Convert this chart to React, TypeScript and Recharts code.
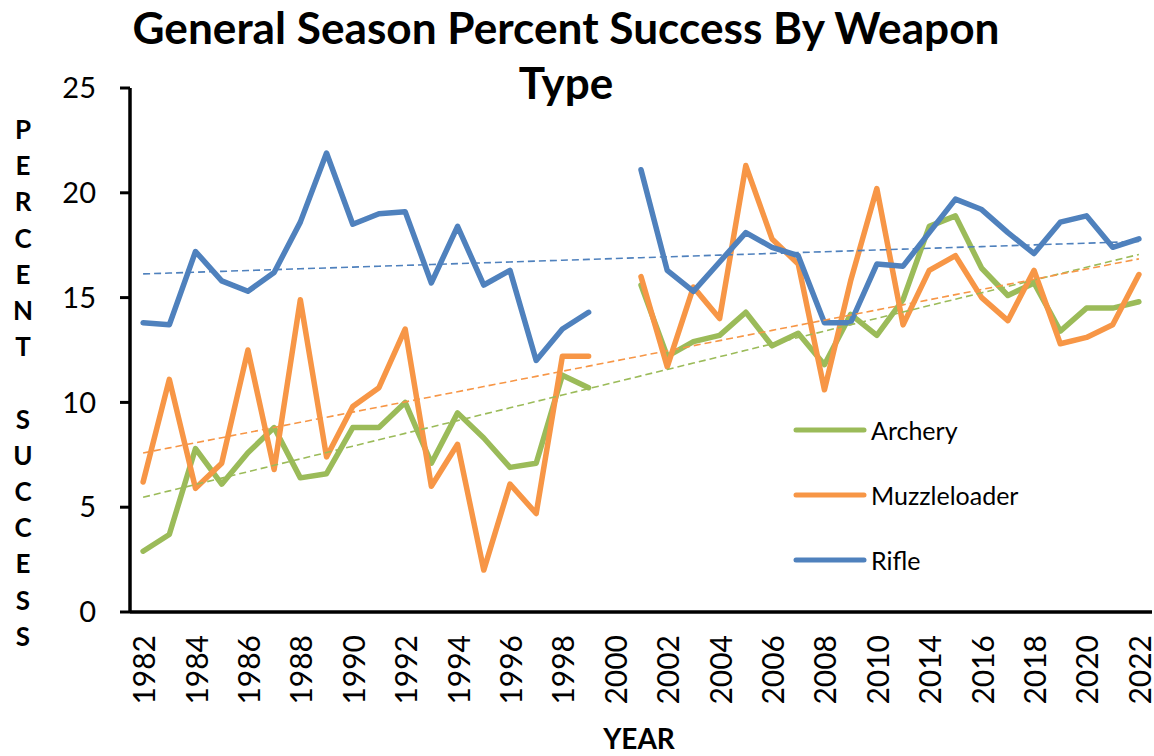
import React from 'react';
import { LineChart, Line, XAxis, YAxis, Legend } from 'recharts';

// categories (index 18 = 2000 has no data)
const years = [
  '1982', '1983', '1984', '1985', '1986', '1987', '1988', '1989', '1990', '1991',
  '1992', '1993', '1994', '1995', '1996', '1997', '1998', '1999', '2000', '2001',
  '2002', '2003', '2004', '2005', '2006', '2007', '2008', '2009', '2010', '2012',
  '2014', '2015', '2016', '2017', '2018', '2019', '2020', '2021', '2022',
];

const archery = [
  2.9, 3.7, 7.8, 6.1, 7.6, 8.8, 6.4, 6.6, 8.8, 8.8,
  10.0, 7.1, 9.5, 8.3, 6.9, 7.1, 11.3, 10.7, null, 15.6,
  12.2, 12.9, 13.2, 14.3, 12.7, 13.3, 11.8, 14.2, 13.2, 14.9,
  18.4, 18.9, 16.4, 15.1, 15.7, 13.4, 14.5, 14.5, 14.8,
];

const muzzleloader = [
  6.2, 11.1, 5.9, 7.1, 12.5, 6.8, 14.9, 7.4, 9.8, 10.7,
  13.5, 6.0, 8.0, 2.0, 6.1, 4.7, 12.2, 12.2, null, 16.0,
  11.7, 15.5, 14.0, 21.3, 17.8, 16.6, 10.6, 15.8, 20.2, 13.7,
  16.3, 17.0, 15.0, 13.9, 16.3, 12.8, 13.1, 13.7, 16.1,
];

const rifle = [
  13.8, 13.7, 17.2, 15.8, 15.3, 16.2, 18.6, 21.9, 18.5, 19.0,
  19.1, 15.7, 18.4, 15.6, 16.3, 12.0, 13.5, 14.3, null, 21.1,
  16.3, 15.3, 16.7, 18.1, 17.4, 17.0, 13.8, 13.8, 16.6, 16.5,
  18.1, 19.7, 19.2, 18.1, 17.1, 18.6, 18.9, 17.4, 17.8,
];

const yTicks = [0, 5, 10, 15, 20, 25];
const yLabel = 'PERCENT SUCCESS';

const series = [
  { key: 'archery', name: 'Archery', color: '#9BBB59', values: archery },
  { key: 'muzzle', name: 'Muzzleloader', color: '#F79646', values: muzzleloader },
  { key: 'rifle', name: 'Rifle', color: '#4F81BD', values: rifle },
];

// least squares fit over category index, like an Excel linear trendline
function linearFit(values: (number | null)[]) {
  const pts = values.map((v, i) => [i, v] as [number, number | null]).filter((p) => p[1] != null) as [number, number][];
  const n = pts.length;
  const mx = pts.reduce((s, p) => s + p[0], 0) / n;
  const my = pts.reduce((s, p) => s + p[1], 0) / n;
  let num = 0;
  let den = 0;
  pts.forEach(([x, y]) => {
    num += (x - mx) * (y - my);
    den += (x - mx) * (x - mx);
  });
  const slope = num / den;
  return (x: number) => my + slope * (x - mx);
}

const fits = series.map((s) => linearFit(s.values));

const data = years.map((year, i) => {
  const row: any = { idx: i, year };
  series.forEach((s, k) => {
    row[s.key] = s.values[i];
    row[s.key + 'Trend'] = fits[k](i);
  });
  return row;
});

const labelTicks = years.map((_, i) => i).filter((i) => i % 2 === 0);
const boundaryTicks = [...years.map((_, i) => i - 0.5), years.length - 0.5];

const YearTick = (props: any) => {
  const { x, y, payload } = props;
  return (
    <g transform={`translate(${x}, ${y}) rotate(-90)`}>
      <text x={0} y={0} textAnchor="end" dominantBaseline="central" fontFamily="Lato" fontSize={30} fill="#000">
        {years[payload.value]}
      </text>
    </g>
  );
};

const renderLegend = (props: any) => {
  const items = (props.payload || []).filter((p: any) => !String(p.dataKey).endsWith('Trend'));
  return (
    <div>
      {items.map((p: any) => (
        <div key={p.value} style={{ display: 'flex', alignItems: 'center', height: 65 }}>
          <svg width={74} height={10}>
            <line x1={3} x2={71} y1={5} y2={5} stroke={p.color} strokeWidth={5} strokeLinecap="round" />
          </svg>
          <span style={{ marginLeft: 4, fontFamily: 'Lato', fontSize: 25, color: '#000' }}>{p.value}</span>
        </div>
      ))}
    </div>
  );
};

export default function App() {
  return (
    <div style={{ position: 'absolute', left: 0, top: 0, width: 1154, height: 756, background: '#fff' }}>
      <LineChart width={1154} height={756} data={data} margin={{ top: 88, right: 2, bottom: 44, left: 30 }}>
        <XAxis
          xAxisId="marks"
          type="number"
          dataKey="idx"
          domain={[-0.5, years.length - 0.5]}
          ticks={boundaryTicks}
          tick={false}
          tickSize={8}
          height={1}
          axisLine={false}
          tickLine={{ stroke: '#000', strokeWidth: 3 }}
        />
        <XAxis
          type="number"
          dataKey="idx"
          domain={[-0.5, years.length - 0.5]}
          ticks={labelTicks}
          interval={0}
          tick={<YearTick />}
          tickSize={0}
          tickMargin={23}
          height={99}
          tickLine={false}
          axisLine={{ stroke: '#000', strokeWidth: 3.5 }}
        />
        <YAxis
          domain={[0, 25]}
          ticks={yTicks}
          width={100}
          tickSize={10}
          tickMargin={24}
          tick={{ fill: '#000', fontFamily: 'Lato', fontSize: 29 }}
          axisLine={{ stroke: '#000', strokeWidth: 3.5 }}
          tickLine={{ stroke: '#000', strokeWidth: 3 }}
        />
        {series.map((s) => (
          <Line
            key={s.key}
            dataKey={s.key}
            name={s.name}
            stroke={s.color}
            strokeWidth={5.5}
            dot={false}
            connectNulls={false}
            strokeLinejoin="round"
            strokeLinecap="round"
            isAnimationActive={false}
          />
        ))}
        {series.map((s) => (
          <Line
            key={s.key + 'Trend'}
            dataKey={s.key + 'Trend'}
            stroke={s.color}
            strokeWidth={1.6}
            strokeDasharray="7 4"
            dot={false}
            legendType="none"
            isAnimationActive={false}
          />
        ))}
        <Legend
          layout="vertical"
          align="center"
          verticalAlign="middle"
          content={renderLegend}
          wrapperStyle={{ left: 793, top: 397, width: 300 }}
        />
      </LineChart>
      <svg width={1154} height={756} style={{ position: 'absolute', left: 0, top: 0, pointerEvents: 'none' }}>
        <text x={566} y={44} textAnchor="middle" fontFamily="Lato" fontWeight="bold" fontSize={44} textLength={867} lengthAdjust="spacingAndGlyphs">
          General Season Percent Success By Weapon
        </text>
        <text x={566} y={99} textAnchor="middle" fontFamily="Lato" fontWeight="bold" fontSize={44}>
          Type
        </text>
        {yLabel.split('').map((ch, i) => (
          <text key={i} x={23} y={130 + i * 36.2 + 9} textAnchor="middle" fontFamily="Lato" fontWeight="bold" fontSize={26}>
            {ch}
          </text>
        ))}
        <text x={639} y={749} textAnchor="middle" fontFamily="Lato" fontWeight="bold" fontSize={28}>
          YEAR
        </text>
      </svg>
    </div>
  );
}
